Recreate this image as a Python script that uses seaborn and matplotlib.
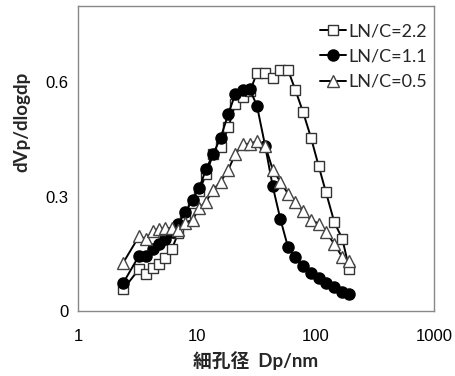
import pandas as pd
import matplotlib.pyplot as plt
import seaborn as sns

# -------------------------------
# Data
# -------------------------------
pore_nm = [2.41, 3.27, 3.74, 4.26, 4.78, 5.44, 6.19, 7.0, 8.02, 9.25, 10.5,
           12.0, 13.8, 15.9, 18.5, 21.1, 24.4, 28.1, 32.2, 37.8, 43.7, 50.6,
           58.7, 67.7, 78.7, 91.9, 106.6, 122.8, 144.3, 168.6, 193.0]

ln_22 = [0.057, 0.110, 0.097, 0.113, 0.124, 0.139, 0.163, 0.205, 0.247, 0.282,
         0.316, 0.358, 0.413, 0.429, 0.482, 0.542, 0.561, 0.576, 0.625, 0.625,
         0.611, 0.632, 0.633, 0.580, 0.522, 0.454, 0.380, 0.311, 0.233, 0.189,
         0.110]

ln_11 = [0.074, 0.145, 0.143, 0.162, 0.176, 0.190, 0.208, 0.229, 0.259, 0.292,
         0.323, 0.372, 0.413, 0.454, 0.518, 0.568, 0.580, 0.581, 0.538, 0.432,
         0.327, 0.242, 0.168, 0.141, 0.119, 0.099, 0.086, 0.073, 0.062, 0.050,
         0.045]

ln_05 = [0.127, 0.196, 0.189, 0.211, 0.215, 0.217, 0.217, 0.213, 0.232, 0.239,
         0.270, 0.287, 0.318, 0.339, 0.371, 0.411, 0.437, 0.439, 0.445, 0.433,
         0.371, 0.339, 0.308, 0.287, 0.261, 0.239, 0.229, 0.206, 0.176, 0.141,
         0.132]

labels = ['LN/C=2.2', 'LN/C=1.1', 'LN/C=0.5']
x_ticks = [1, 10, 100, 1000]
y_ticks = [0, 0.3, 0.6]

# -------------------------------
# Style
# -------------------------------
sns.set_style("white")
plt.rcParams['font.family'] = ['Liberation Sans', 'DejaVu Sans']
lat = ['Lato', 'Noto Sans CJK JP', 'DejaVu Sans']

df = pd.DataFrame({'dp': pore_nm, 'a': ln_22, 'b': ln_11, 'c': ln_05})

fig, ax = plt.subplots(figsize=(4.56, 3.76), dpi=100)
fig.subplots_adjust(left=0.171, right=0.952, bottom=0.173, top=0.984)

styles = [
    dict(marker='s', markersize=7.5, markerfacecolor='white', markeredgecolor='#333333'),
    dict(marker='o', markersize=8, markerfacecolor='black', markeredgecolor='black'),
    dict(marker='^', markersize=8, markerfacecolor='white', markeredgecolor='#444444'),
]
for col, lab, st in zip(['a', 'b', 'c'], labels, styles):
    sns.lineplot(data=df, x='dp', y=col, ax=ax, color='black', linewidth=1.4,
                 label=lab, markeredgewidth=1.0, **st)

ax.set_xscale('log')
ax.set_xlim(1, 1000)
ax.set_ylim(0, 0.8)
ax.set_xticks(x_ticks)
ax.set_xticklabels([str(t) for t in x_ticks])
ax.minorticks_off()
ax.set_yticks(y_ticks)
ax.set_yticklabels(['0', '0.3', '0.6'])
ax.tick_params(axis='both', labelsize=12, colors='#888888', labelcolor='black',
               length=5, width=1, direction='out')
ax.tick_params(axis='y', pad=2)
ax.tick_params(axis='x', pad=8)
for s in ax.spines.values():
    s.set_color('#888888')
    s.set_linewidth(1)

ax.set_xlabel('細孔径  Dp/nm', fontsize=13.5, fontweight='bold', family=lat)
ax.set_ylabel('dVp/dlogdp', fontsize=13.5, fontweight='bold', family=lat)
ax.yaxis.set_label_coords(-0.135, 0.62)
ax.xaxis.set_label_coords(0.5, -0.13)

leg = ax.legend(loc='upper left', bbox_to_anchor=(0.635, 0.995), frameon=False,
                handlelength=1.4, handletextpad=0.15, labelspacing=0.5,
                prop={'family': lat, 'size': 13})

plt.savefig('out.png', dpi=100)
